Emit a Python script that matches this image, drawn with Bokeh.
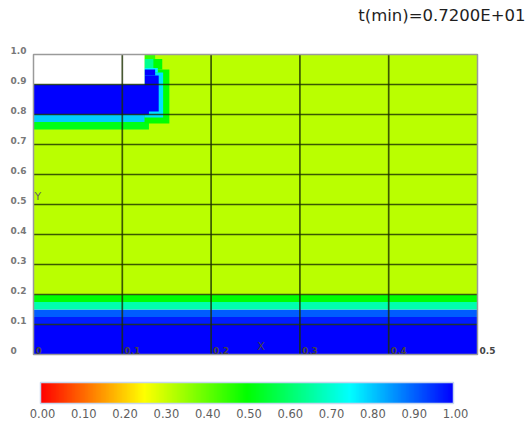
import numpy as np
from bokeh.plotting import figure
from bokeh.models import LinearColorMapper, ColumnDataSource, Range1d
from bokeh.core.properties import value
from bokeh.transform import transform
from bokeh.embed import file_html
from bokeh.resources import INLINE

# ---------------- data ----------------
title_text = "t(min)=0.7200E+01"
x_ticks = [0.0, 0.1, 0.2, 0.3, 0.4, 0.5]
x_tick_labels = ["0", "0.1", "0.2", "0.3", "0.4", "0.5"]
grid_x = [0.1, 0.2, 0.3, 0.4]
y_ticks = [0.0, 0.1, 0.2, 0.3, 0.4, 0.5, 0.6, 0.7, 0.8, 0.9, 1.0]
y_tick_labels = ["0", "0.1", "0.2", "0.3", "0.4", "0.5", "0.6", "0.7", "0.8", "0.9", "1.0"]
grid_y = [0.1, 0.2, 0.3, 0.4, 0.5, 0.6, 0.7, 0.8, 0.9]
cbar_ticks = [0.0, 0.1, 0.2, 0.3, 0.4, 0.5, 0.6, 0.7, 0.8, 0.9, 1.0]
cbar_tick_labels = ["0.00", "0.10", "0.20", "0.30", "0.40", "0.50",
                    "0.60", "0.70", "0.80", "0.90", "1.00"]

# domain
x_min, x_max = 0.0, 0.5
y_min, y_max = 0.0, 1.0

# horizontal layers spanning the whole width (fraction of fluid)
band_bottom = [0.0, 0.1, 0.125, 0.15, 0.175, 0.2]
band_top = [0.1, 0.125, 0.15, 0.175, 0.2, 1.0]
band_value = [1.0, 0.97, 0.91, 0.67, 0.50, 0.32]

# blob near the inlet (drawn in order, later layers on top)
blob_left = [0.0, 0.125, 0.125, 0.125,
             0.0, 0.125, 0.125, 0.125,
             0.0, 0.125, 0.125]
blob_right = [0.13, 0.153, 0.145, 0.137,
              0.125, 0.146, 0.135, 0.14,
              0.13, 0.141, 0.137]
blob_bottom = [0.75, 0.77, 0.95, 0.985,
               0.775, 0.79, 0.94, 0.94,
               0.8, 0.81, 0.93]
blob_top = [0.9, 0.95, 0.985, 1.0,
            0.9, 0.94, 0.985, 0.955,
            0.9, 0.93, 0.95]
blob_value = [0.52, 0.50, 0.50, 0.45,
              0.80, 0.78, 0.64, 0.76,
              1.0, 1.0, 1.0]

# empty (white) region
void_left = [0.0]
void_right = [0.125]
void_bottom = [0.9]
void_top = [1.0]

# ---------------- palette ----------------
anchors = [(0.0, (255, 0, 0)), (0.25, (255, 255, 0)), (0.5, (0, 255, 0)),
           (0.75, (0, 255, 255)), (1.0, (0, 0, 255))]
pos = np.linspace(0, 1, 256)
cols = []
for t in pos:
    for (a0, c0), (a1, c1) in zip(anchors[:-1], anchors[1:]):
        if a0 <= t <= a1:
            f = (t - a0) / (a1 - a0)
            c = [int(round(c0[k] + f * (c1[k] - c0[k]))) for k in range(3)]
            cols.append("#%02x%02x%02x" % tuple(c))
            break
mapper = LinearColorMapper(palette=cols, low=0.0, high=1.0)

FONT = "DejaVu Sans"

# ---------------- figure (frame covers the whole canvas) ----------------
W, H = 527, 421
PX_X, PX_Y = 888.0, 300.0          # pixels per data unit
OX, OY = 33.0, 354.0               # canvas pixel of data origin (from top-left)
p = figure(width=W, height=H,
           x_range=Range1d(-OX / PX_X, (W - OX) / PX_X),
           y_range=Range1d((OY - H) / PX_Y, OY / PX_Y),
           x_axis_location=None, y_axis_location=None,
           toolbar_location=None, output_backend="svg",
           min_border=0)
p.outline_line_color = None
p.grid.visible = False
p.background_fill_color = "white"
p.border_fill_color = "white"

bands = ColumnDataSource(dict(left=[x_min] * len(band_value), right=[x_max] * len(band_value),
                              bottom=band_bottom, top=band_top, v=band_value))
p.quad(left="left", right="right", bottom="bottom", top="top", source=bands,
       fill_color=transform("v", mapper), line_color=None)

blob = ColumnDataSource(dict(left=blob_left, right=blob_right, bottom=blob_bottom,
                             top=blob_top, v=blob_value))
p.quad(left="left", right="right", bottom="bottom", top="top", source=blob,
       fill_color=transform("v", mapper), line_color=None)

p.quad(left=void_left, right=void_right, bottom=void_bottom, top=void_top,
       fill_color="white", line_color=None)

# grid lines
p.segment(x0=grid_x, x1=grid_x, y0=[y_min] * len(grid_x), y1=[y_max] * len(grid_x),
          line_color="#1c3000", line_alpha=0.8, line_width=1.7)
p.segment(x0=[x_min] * len(grid_y), x1=[x_max] * len(grid_y), y0=grid_y, y1=grid_y,
          line_color="#1c3000", line_alpha=0.8, line_width=1.7)
# frame
p.quad(left=[x_min], right=[x_max], bottom=[y_min], top=[y_max],
       fill_color=None, line_color="#9a9a9a", line_width=1.5)

# y tick labels (left, slightly above the ticks)
p.text(x=[-23.0 / PX_X] * len(y_ticks), y=y_ticks, text=y_tick_labels, y_offset=-4,
       text_font=value(FONT), text_font_size="9px", text_font_style="bold",
       text_color="#787878", text_align="left", text_baseline="middle")
# x tick labels (inside the frame, at the bottom)
p.text(x=x_ticks, y=[y_min] * len(x_ticks), text=x_tick_labels, x_offset=2, y_offset=-1,
       text_font=value(FONT), text_font_size="9px", text_font_style="bold",
       text_color="#444444", text_align="left", text_baseline="bottom")

p.text(x=[x_min], y=[0.527], text=["Y"], x_offset=1, text_font=value(FONT),
       text_font_size="11px", text_color="#666666",
       text_align="left", text_baseline="middle")
p.text(x=[0.252], y=[y_min], text=["X"], y_offset=-2, text_font=value(FONT),
       text_font_size="11px", text_color="#444444",
       text_align="left", text_baseline="bottom")
p.text(x=[(525 - OX) / PX_X], y=[(OY - 15) / PX_Y], text=[title_text], text_font=value(FONT),
       text_font_size="16.5px", text_color="#1e1e1e",
       text_align="right", text_baseline="middle")

# ---------------- colour bar (drawn in the same canvas) ----------------
cb_l, cb_r = (40 - OX) / PX_X, (453 - OX) / PX_X
cb_t, cb_b = (OY - 382) / PX_Y, (OY - 403) / PX_Y
p.image(image=[pos.reshape(1, -1)], x=cb_l, y=cb_b, dw=cb_r - cb_l, dh=cb_t - cb_b,
        color_mapper=mapper)
p.quad(left=[cb_l], right=[cb_r], bottom=[cb_b], top=[cb_t],
       fill_color=None, line_color="#c6d6ee", line_width=1.5)
cb_x = [cb_l + 2.0 / PX_X + t * (cb_r - cb_l) for t in cbar_ticks]
p.text(x=cb_x, y=[cb_b] * len(cbar_ticks), text=cbar_tick_labels, y_offset=5,
       text_font=value(FONT), text_font_size="11.5px", text_color="#5e5e5e",
       text_align="center", text_baseline="top")

open("out.html", "w").write(file_html(p, INLINE))
